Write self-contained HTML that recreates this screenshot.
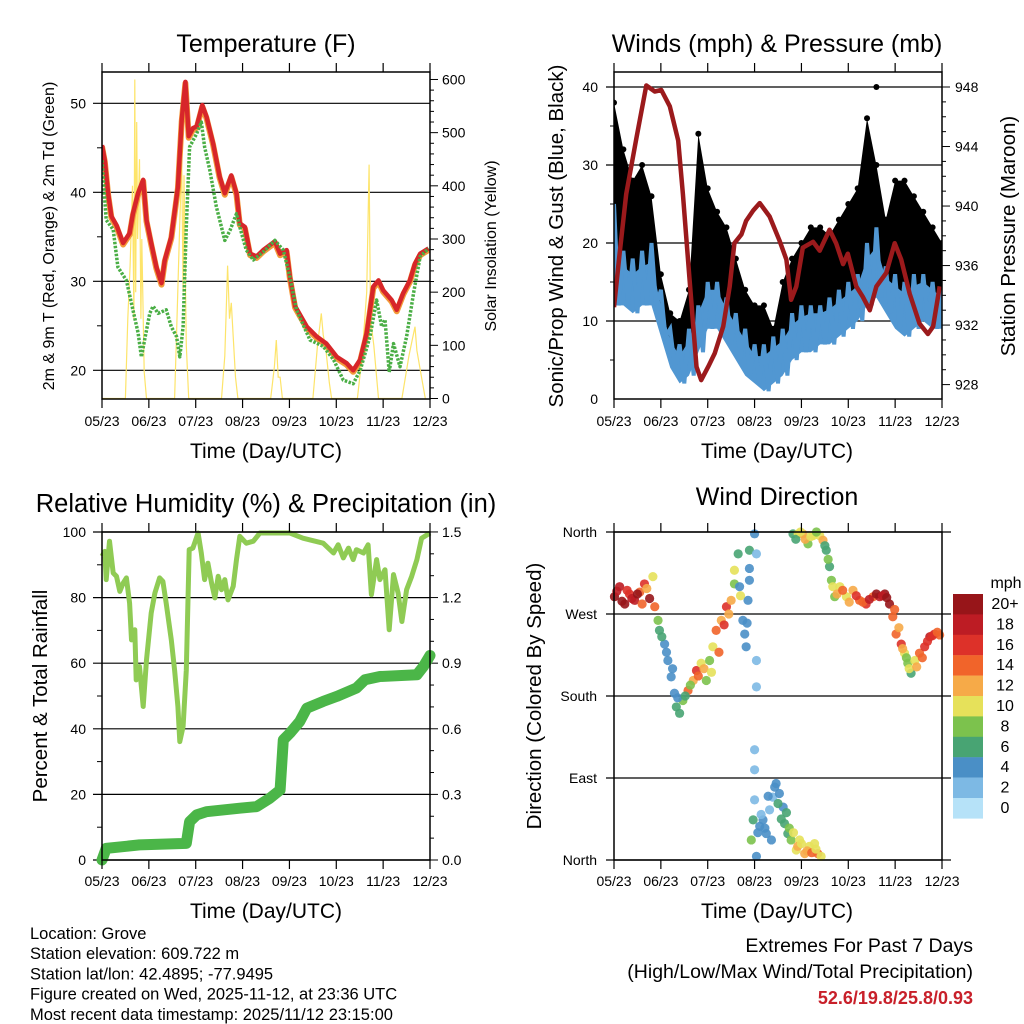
<!DOCTYPE html>
<html><head><meta charset="utf-8"><style>
body{margin:0;background:#fff;width:1024px;height:1024px;overflow:hidden}
svg{display:block;font-family:"Liberation Sans",sans-serif}
</style></head><body>
<svg id="c" width="1024" height="1024" viewBox="0 0 1024 1024"></svg>
<script>
// ---------- DATA ----------
const xTickLabels=["05/23","06/23","07/23","08/23","09/23","10/23","11/23","12/23"];
const tempTicks=[20,30,40,50];
const solarTicks=[0,100,200,300,400,500,600];
const t2mDays=[0,0.06,0.13,0.2,0.31,0.45,0.59,0.66,0.77,0.88,0.95,1.05,1.16,1.27,1.34,1.48,1.62,1.70,1.78,1.85,1.94,2.02,2.14,2.23,2.37,2.51,2.62,2.76,2.87,2.94,3.05,3.16,3.30,3.44,3.69,3.80,3.94,4.01,4.12,4.37,4.58,4.79,5.01,5.22,5.36,5.51,5.65,5.79,5.90,6.00,6.18,6.29,6.43,6.57,6.68,6.79,6.97];
const t2mVals=[45.3,43.6,39.9,37.3,36.3,34.3,35.4,37.6,39.9,41.4,36.9,34.3,31.6,29.8,32.4,35.0,40.6,48.1,52.4,46.3,47.2,47.4,49.8,48.5,45.5,41.8,39.9,41.9,39.9,36.5,36.1,33.1,32.8,33.5,34.5,33.1,33.5,30.5,27.2,24.9,23.8,23.0,21.5,20.8,20.0,21.2,24.2,29.4,30.1,29.0,27.9,26.8,28.7,30.1,32.0,33.1,33.7];
const tdDays=[0,0.09,0.24,0.34,0.52,0.66,0.77,0.84,0.91,1.02,1.09,1.20,1.37,1.48,1.59,1.66,1.73,1.80,1.87,2.02,2.12,2.19,2.30,2.44,2.62,2.73,2.87,2.94,3.08,3.23,3.44,3.69,3.87,4.01,4.15,4.44,4.72,4.94,5.15,5.36,5.51,5.72,5.86,5.97,6.04,6.13,6.22,6.36,6.50,6.65,6.79,6.97];
const tdVals=[43.6,36.9,35.8,31.6,30.1,26.8,24.2,21.5,23.4,26.4,27.2,26.4,26.8,24.9,23.8,21.5,24.9,36.1,45.1,46.6,47.9,45.1,42.5,38.4,34.6,35.7,37.6,36.1,33.5,32.4,33.3,34.6,33.5,30.5,26.8,23.4,22.7,21.2,18.9,18.5,20.0,23.8,27.9,24.9,25.7,19.8,23.0,20.4,23.8,28.7,32.8,33.7];
const solarDays=[0,0.5,0.55,0.6,0.65,0.68,0.7,0.72,0.74,0.76,0.8,0.83,0.85,0.9,0.95,1.55,1.6,1.65,1.7,1.73,1.75,1.8,1.85,2.55,2.62,2.68,2.72,2.76,2.85,2.9,3.6,3.68,3.72,3.76,3.8,3.85,4.5,4.6,4.68,4.72,4.78,4.85,4.9,5.45,5.55,5.65,5.7,5.73,5.8,5.9,6.4,6.55,6.62,6.68,6.72,6.8,6.9];
const solarVals=[0,0,150,250,400,150,600,200,520,300,450,150,300,50,0,0,150,300,450,200,420,100,0,0,80,250,150,180,40,0,0,60,110,40,40,0,0,100,160,120,90,30,0,0,80,200,440,150,100,0,0,80,110,135,90,50,0];

const windTicks=[0,10,20,30,40];
const presTicks=[928,932,936,940,944,948];
const windHi=[25,19,18,19,20,14,9,7,9,12,15,15,13,11,9,7,7,8,9,11,12,12,12,13,14,15,16,20,22,17,16,15,16,16,15,14];
const windLo=[12,12,11,12,12,8,4,2,3,6,9,9,7,5,3,2,1,2,3,5,6,6,7,7,8,9,10,12,13,11,9,8,9,10,9,9];
const gustHi=[38,32,28,30,26,16,11,10,14,34,27,24,22,18,14,12,12,9,15,18,20,22,22,21,23,25,27,36,30,23,28,28,26,24,22,20];
const gustLo=[16,15,14,15,15,10,6,4,6,10,13,13,10,8,6,4,4,5,6,8,9,10,10,10,11,12,13,16,17,14,13,12,13,14,13,12];
const presDays=[0,0.12,0.26,0.48,0.69,0.87,1.01,1.19,1.37,1.47,1.61,1.76,1.86,2.01,2.15,2.33,2.47,2.57,2.72,2.82,2.97,3.11,3.32,3.53,3.68,3.78,3.89,4.03,4.25,4.39,4.60,4.74,4.89,4.99,5.17,5.31,5.46,5.60,5.81,5.99,6.13,6.31,6.52,6.70,6.81,6.95];
const presVals=[933.2,936.8,940.8,944.6,948.1,947.7,947.8,946.7,944.4,940.8,935.2,929.2,928.3,929.2,930.1,931.9,934.6,937.5,938.1,939.0,939.7,940.2,939.3,937.7,936.4,933.7,934.6,937.2,937.6,937.0,938.4,937.5,936.1,936.8,934.6,933.9,933.0,934.6,935.5,937.5,936.4,934.1,932.1,931.4,931.9,934.6];

const rhTicks=[0,20,40,60,80,100];
const precipTicks=["0.0","0.3","0.6","0.9","1.2","1.5"];
const rhDays=[0,0.06,0.09,0.16,0.24,0.31,0.38,0.45,0.52,0.59,0.63,0.70,0.73,0.80,0.88,0.95,1.05,1.13,1.23,1.30,1.37,1.48,1.55,1.62,1.66,1.73,1.80,1.86,1.94,2.05,2.12,2.19,2.26,2.34,2.41,2.48,2.55,2.62,2.69,2.80,2.87,2.94,3.08,3.23,3.37,4.01,4.29,4.72,4.94,5.04,5.15,5.26,5.36,5.43,5.58,5.68,5.75,5.86,5.93,6.04,6.13,6.22,6.32,6.40,6.50,6.61,6.72,6.82,7.0];
const rhVals=[92.6,94.1,85.5,97.2,87.5,86.5,81.9,84.4,86.0,78.3,67.1,70.2,54.9,59.0,46.8,61.0,75.3,81.4,86.0,84.9,78.3,67.1,57.9,46.8,36.1,40.7,57.9,94.6,95.1,99.7,93.6,85.5,90.5,84.4,79.9,86.5,82.4,85.5,79.3,83.4,91.6,98.7,96.6,97.2,99.7,99.7,98.1,96.6,93.6,96.1,92.1,95.1,91.6,94.6,93.6,96.1,80.9,91.6,85.5,88.5,70.2,87.0,81.4,72.7,82.4,86.5,91.6,98.1,99.7];
const precipDays=[0,0.09,0.80,1.80,1.87,2.02,2.23,2.94,3.30,3.58,3.80,3.87,4.01,4.22,4.37,4.72,5.01,5.43,5.61,5.93,6.72,6.86,7.0];
const precipVals=[0,0.053,0.069,0.076,0.175,0.206,0.221,0.237,0.244,0.282,0.320,0.549,0.580,0.633,0.694,0.725,0.748,0.786,0.824,0.839,0.847,0.885,0.935];

const dirLabels=["North","West","South","East","North"];
const dirDays=[0.01,0.12,0.23,0.33,0.44,0.55,0.65,0.76,0.83,0.87,0.94,0.97,1.08,1.15,1.22,1.29,1.33,1.40,1.47,1.58,1.69,1.76,1.86,1.97,2.04,2.11,2.18,2.29,2.40,2.50,2.57,2.57,2.65,2.68,2.75,2.79,2.82,2.86,2.89,2.89,2.89,3.00,3.04,3.04,3.04,
3.82,3.93,4.03,4.14,4.25,4.39,4.46,4.53,4.60,4.64,4.71,4.82,4.96,5.10,5.24,5.38,5.53,5.67,5.78,5.88,5.95,6.02,6.13,6.20,6.27,6.34,6.42,6.52,6.63,6.74,6.84,6.95,
3.00,3.00,3.00,2.97,2.93,3.04,3.11,3.18,3.25,3.32,3.36,3.39,3.46,3.53,3.61,3.64,3.71,3.78,3.89,3.96,4.07,4.17,4.28,4.35,4.42,
0.06,0.17,0.28,0.38,0.50,0.60,0.70,1.02,1.12,1.25,1.36,1.52,1.63,1.80,1.92,2.08,2.24,2.35,2.45,2.70,2.84,3.88,3.98,4.08,4.20,4.32,4.50,4.57,4.67,4.76,4.88,5.02,5.17,5.31,5.45,5.60,5.73,5.82,5.99,6.08,6.16,6.24,6.30,6.46,6.58,6.69,6.79,6.90,3.07,3.14,3.22,3.29,3.43,3.50,3.57,3.68,3.74,3.83,3.92,4.00,4.12,4.22,4.31];
const dirDeg=[289,300,281,292,285,294,303,287,311,278,263,252,237,219,201,183,168,161,175,186,197,208,216,197,219,234,252,263,278,285,303,318,336,300,263,248,234,285,307,320,340,358,336,219,190,
358,358,358,347,356,356,351,340,322,307,289,300,289,296,285,281,289,289,292,281,267,248,237,227,216,205,219,227,234,245,248,247,
121,99,66,44,22,4,37,44,29,55,22,69,84,73,58,40,29,22,11,22,7,15,18,7,4,
295,284,296,287,292,281,298,245,228,210,178,180,192,202,210,206,228,258,270,290,260,352,360,352,355,360,345,330,300,292,296,283,290,283,286,292,290,288,275,255,232,222,210,212,222,240,246,250,30,50,35,70,80,62,45,52,35,30,15,18,10,8,12];
const dirSpeed=[20,18,20,16,18,14,16,20,10,14,8,6,4,4,4,4,6,6,8,14,12,16,10,8,8,10,14,12,16,12,8,10,6,4,4,4,4,4,4,4,6,4,2,2,2,
6,10,12,8,10,10,12,6,6,8,8,10,10,12,14,16,14,18,20,20,14,14,16,10,8,6,10,14,16,18,16,14,
2,2,2,6,8,4,4,4,4,2,4,2,4,4,4,6,6,8,10,10,12,10,10,14,10,
18,20,16,18,20,14,12,6,4,4,4,6,8,14,12,10,14,16,12,10,4,6,10,12,10,8,6,8,10,12,14,12,16,14,18,20,18,20,14,12,12,8,10,12,14,16,16,14,4,2,4,4,4,6,6,6,8,10,12,10,12,14,10];
const speedLabels=["20+","18","16","14","12","10","8","6","4","2","0"];
const speedColors=["#971519","#bd1c24","#dd3129","#f1642a","#f6aa48","#e6e15a","#7cc24d","#48a473","#4a8fc6","#7db9e4","#b6e2f8"];

// ---------- HELPERS ----------
const NS="http://www.w3.org/2000/svg";
const svg=document.getElementById('c');
function el(tag,attrs,parent){const e=document.createElementNS(NS,tag);for(const k in attrs)e.setAttribute(k,attrs[k]);(parent||svg).appendChild(e);return e;}
function txt(s,x,y,size,anchor,parent,extra){const t=el('text',Object.assign({x:x,y:y,'font-size':size,'text-anchor':anchor||'middle',fill:'#000'},extra||{}),parent);t.textContent=s;return t;}
function grp(name){const g=el('g',{});return g;}

function frame(g,L,R,T,B){
  const r=el('rect',{x:L,y:T,width:R-L,height:B-T,fill:'none',stroke:'#000','stroke-width':1.5},g);
  
  
  for(let i=0;i<8;i++){const x=L+(R-L)*i/7;
    el('line',{x1:x,y1:T,x2:x,y2:T-9,stroke:'#000','stroke-width':1.2},g);
    el('line',{x1:x,y1:B,x2:x,y2:B+9,stroke:'#000','stroke-width':1.2},g);}
}
function xLabels(g,L,R,y,cx,ty){
  xTickLabels.forEach((s,i)=>{const t=txt(s,L+(R-L)*i/7,y,14,'middle',g);
    
    });
  const t=txt('Time (Day/UTC)',cx,ty,21,'middle',g);
  
  
}
function pathD(xs,ys){return xs.map((x,i)=>(i?'L':'M')+x.toFixed(1)+' '+ys[i].toFixed(1)).join(' ');}

// ---------- PANEL 1: TEMPERATURE ----------
(function(){
  const L=102,R=430,T=72,B=399;
  const g=grp('temperature-panel');
  const X=d=>L+(R-L)*d/7;
  const Y=t=>103.3+(50-t)*8.9;
  const YS=w=>398.5-w*0.5317;
  const cp=el('clipPath',{id:'cp1'},g);el('rect',{x:L,y:T,width:R-L,height:B-T},cp);
  tempTicks.forEach(v=>{const l=el('line',{x1:93,y1:Y(v),x2:R,y2:Y(v),stroke:'#000','stroke-width':1.2},g);
    
    
    const t=txt(String(v),86,Y(v)+5,14,'end',g);
    
    });
  [25,35,45].forEach(v=>el('line',{x1:97,y1:Y(v),x2:L,y2:Y(v),stroke:'#000'},g));
  for(let w=0;w<=600;w+=20)el('line',{x1:R,y1:YS(w),x2:R+(w%100?4:8),y2:YS(w),stroke:'#000'},g);
  solarTicks.forEach(v=>{const t=txt(String(v),442,YS(v)+5,14,'start',g);
    
    });
  const pg=el('g',{'clip-path':'url(#cp1)'},g);
  const sol=el('path',{d:pathD(solarDays.map(X),solarVals.map(YS)),fill:'none',stroke:'#fde46a','stroke-width':1.2},pg);
  
  
  const o=el('path',{d:pathD(t2mDays.map(X),t2mVals.map(v=>Y(v)+1.5)),fill:'none',stroke:'#f39a3a','stroke-width':6,'stroke-linejoin':'round'},pg);
  
  
  const r=el('path',{d:pathD(t2mDays.map(X),t2mVals.map(Y)),fill:'none',stroke:'#d7262a','stroke-width':4.5,'stroke-linejoin':'round'},pg);
  
  
  const gr=el('path',{d:pathD(tdDays.map(X),tdVals.map(Y)),fill:'none',stroke:'#4aae45','stroke-width':3.5,'stroke-dasharray':'2.5 1.5','stroke-linejoin':'round'},pg);
  
  
  frame(g,L,R,T,B);
  xLabels(g,L,R,426,266,458);
  const ti=txt('Temperature (F)',266,52,25,'middle',g);
  
  
  const yl=txt('2m & 9m T (Red, Orange) & 2m Td (Green)',0,0,16,'middle',g,{transform:'translate(54,236) rotate(-90)'});
  
  
  const yr=txt('Solar Insolation (Yellow)',0,0,16,'middle',g,{transform:'translate(496,246) rotate(-90)'});
  
  
})();

// ---------- PANEL 2: WINDS ----------
(function(){
  const L=614,R=942,T=72,B=399;
  const g=grp('winds-panel');
  const X=d=>L+(R-L)*d/7;
  const Y=v=>399-v*7.8;
  const YP=p=>87+(948-p)*14.88;
  const cp=el('clipPath',{id:'cp2'},g);el('rect',{x:L,y:T,width:R-L,height:B-T},cp);
  windTicks.forEach(v=>{if(v>0){const l=el('line',{x1:606,y1:Y(v),x2:R,y2:Y(v),stroke:'#000','stroke-width':1.2},g);
    
    }
    const t=txt(String(v),598,Y(v)+5,14,'end',g);
    
    });
  [5,15,25,35].forEach(v=>el('line',{x1:610,y1:Y(v),x2:L,y2:Y(v),stroke:'#000'},g));
  for(let p=928;p<=948;p++)el('line',{x1:R,y1:YP(p),x2:R+(p%4?4:8),y2:YP(p),stroke:'#000'},g);
  presTicks.forEach(v=>{const t=txt(String(v),955,YP(v)+5,14,'start',g);
    
    });
  const pg=el('g',{'clip-path':'url(#cp2)'},g);
  const n=gustHi.length, dx=i=>X(7*i/(n-1));
  const wp=[];windHi.forEach((v,i)=>wp.push([dx(i),Y(v)]));for(let i=n-1;i>=0;i--)wp.push([dx(i),Y(windLo[i])]);
  const wb=el('polygon',{points:wp.map(p=>p.join(',')).join(' '),fill:'#5197d2'},pg);
  
  
  const gp=[];gustHi.forEach((v,i)=>gp.push([dx(i),Y(v)]));for(let i=n-1;i>=0;i--)gp.push([dx(i),Y((gustLo[i]+windHi[i])/2)]);
  const gb=el('polygon',{points:gp.map(p=>p.join(',')).join(' '),fill:'#000'},pg);
  
  
  gustHi.forEach((v,i)=>{const c=el('circle',{cx:dx(i),cy:Y(v),r:3,fill:'#000'},pg);
    
    });
  const iso=el('circle',{cx:X(5.6),cy:Y(40),r:3,fill:'#000'},pg);
  
  
  let zz=[];windHi.forEach((v,i)=>{zz.push([dx(i),Y(v)]);if(i<n-1)zz.push([(dx(i)+dx(i+1))/2,Y(windLo[i])]);});
  const wl=el('path',{d:pathD(zz.map(p=>p[0]),zz.map(p=>p[1])),fill:'none',stroke:'#5197d2','stroke-width':4},pg);
  
  
  const pl=el('path',{d:pathD(presDays.map(X),presVals.map(YP)),fill:'none',stroke:'#9b1a1c','stroke-width':4.5,'stroke-linejoin':'round'},pg);
  
  
  frame(g,L,R,T,B);
  xLabels(g,L,R,426,777,458);
  const ti=txt('Winds (mph) & Pressure (mb)',777,52,25,'middle',g);
  
  
  const yl=txt('Sonic/Prop Wind & Gust (Blue, Black)',0,0,20.5,'middle',g,{transform:'translate(563,236) rotate(-90)'});
  
  
  const yr=txt('Station Pressure (Maroon)',0,0,20.5,'middle',g,{transform:'translate(1015,236) rotate(-90)'});
  
  
})();

// ---------- PANEL 3: RH & PRECIP ----------
(function(){
  const L=102,R=430,T=532,B=860;
  const g=grp('humidity-panel');
  const X=d=>L+(R-L)*d/7;
  const Y=v=>860-v*3.28;
  const YP=p=>860-p*218.7;
  const cp=el('clipPath',{id:'cp3'},g);el('rect',{x:L-8,y:T-8,width:R-L+16,height:B-T+16},cp);
  rhTicks.forEach(v=>{const l=el('line',{x1:93,y1:Y(v),x2:R,y2:Y(v),stroke:'#000','stroke-width':1.2},g);
    
    
    const t=txt(String(v),86,Y(v)+5,14,'end',g);
    
    });
  [10,30,50,70,90].forEach(v=>el('line',{x1:97,y1:Y(v),x2:L,y2:Y(v),stroke:'#000'},g));
  for(let k=0;k<=15;k++)el('line',{x1:R,y1:YP(k/10),x2:R+(k%3?4:8),y2:YP(k/10),stroke:'#000'},g);
  precipTicks.forEach(v=>{const t=txt(v,442,YP(parseFloat(v))+5,14,'start',g);
    
    });
  const pg=el('g',{'clip-path':'url(#cp3)'},g);
  const rl=el('path',{d:pathD(rhDays.map(X),rhVals.map(Y)),fill:'none',stroke:'#8fcb54','stroke-width':5,'stroke-linejoin':'round'},pg);
  
  
  const pl=el('path',{d:pathD(precipDays.map(X),precipVals.map(YP)),fill:'none',stroke:'#4bb648','stroke-width':11,'stroke-linejoin':'round','stroke-linecap':'round'},pg);
  
  
  frame(g,L,R,T,B);
  xLabels(g,L,R,886,266,918);
  const ti=txt('Relative Humidity (%) & Precipitation (in)',266,512,25.5,'middle',g);
  
  
  const yl=txt('Percent & Total Rainfall',0,0,20.5,'middle',g,{transform:'translate(47,696) rotate(-90)'});
  
  
})();

// ---------- PANEL 4: WIND DIRECTION ----------
(function(){
  const L=614,R=942,T=532,B=860;
  const g=grp('wind-direction-panel');
  const X=d=>L+(R-L)*d/7;
  const Y=deg=>860-deg*(328/360);
  dirLabels.forEach((s,i)=>{const y=Y(360-90*i);
    const l=el('line',{x1:606,y1:y,x2:951,y2:y,stroke:'#000','stroke-width':1.2},g);
    
    
    const t=txt(s,597,y+5,14,'end',g);
    
    });
  const pg=el('g',{'fill-opacity':0.9},g);
  dirDays.forEach((d,i)=>{const bin=Math.min(10,Math.floor(dirSpeed[i]/2));
    const c=el('circle',{cx:X(d),cy:Y(dirDeg[i]),r:4.6,fill:speedColors[10-bin]},pg);
    
    });
  const fr=el('rect',{x:L,y:T,width:R-L,height:B-T,fill:'none',stroke:'#000','stroke-width':1.5},g);
  
  
  for(let i=0;i<8;i++){const x=L+(R-L)*i/7;
    el('line',{x1:x,y1:T,x2:x,y2:T-9,stroke:'#000','stroke-width':1.2},g);
    el('line',{x1:x,y1:B,x2:x,y2:B+9,stroke:'#000','stroke-width':1.2},g);}
  xLabels(g,L,R,886,777,918);
  const ti=txt('Wind Direction',777,505,25,'middle',g);
  
  
  const yl=txt('Direction (Colored By Speed)',0,0,20.5,'middle',g,{transform:'translate(541,696) rotate(-90)'});
  
  
  const cb=grp('speed-colorbar');
  speedColors.forEach((c,i)=>{const r=el('rect',{x:953,y:594+i*20.4,width:30,height:20.6,fill:c},cb);
    
    
    const t=txt(speedLabels[i],1005,594+i*20.4+15,16,'middle',cb);
    
    });
  const m=txt('mph',1006,588,16,'middle',cb);
  
  
})();

// ---------- FOOTER ----------
(function(){
  const g=grp('station-info');
  ["Location: Grove","Station elevation: 609.722 m","Station lat/lon: 42.4895; -77.9495","Figure created on Wed, 2025-11-12, at 23:36 UTC","Most recent data timestamp: 2025/11/12 23:15:00"].forEach((s,i)=>{
    const t=txt(s,30,939+i*20.2,16.5,'start',g);
    
    });
  const e=grp('extremes-info');
  const a=txt('Extremes For Past 7 Days',973,952,19.5,'end',e);
  
  
  const b=txt('(High/Low/Max Wind/Total Precipitation)',973,978,19.5,'end',e);
  
  
  const c=txt('52.6/19.8/25.8/0.93',973,1004,18,'end',e,{fill:'#c8202a','font-weight':'bold'});
  
  
})();
</script>
</body></html>
